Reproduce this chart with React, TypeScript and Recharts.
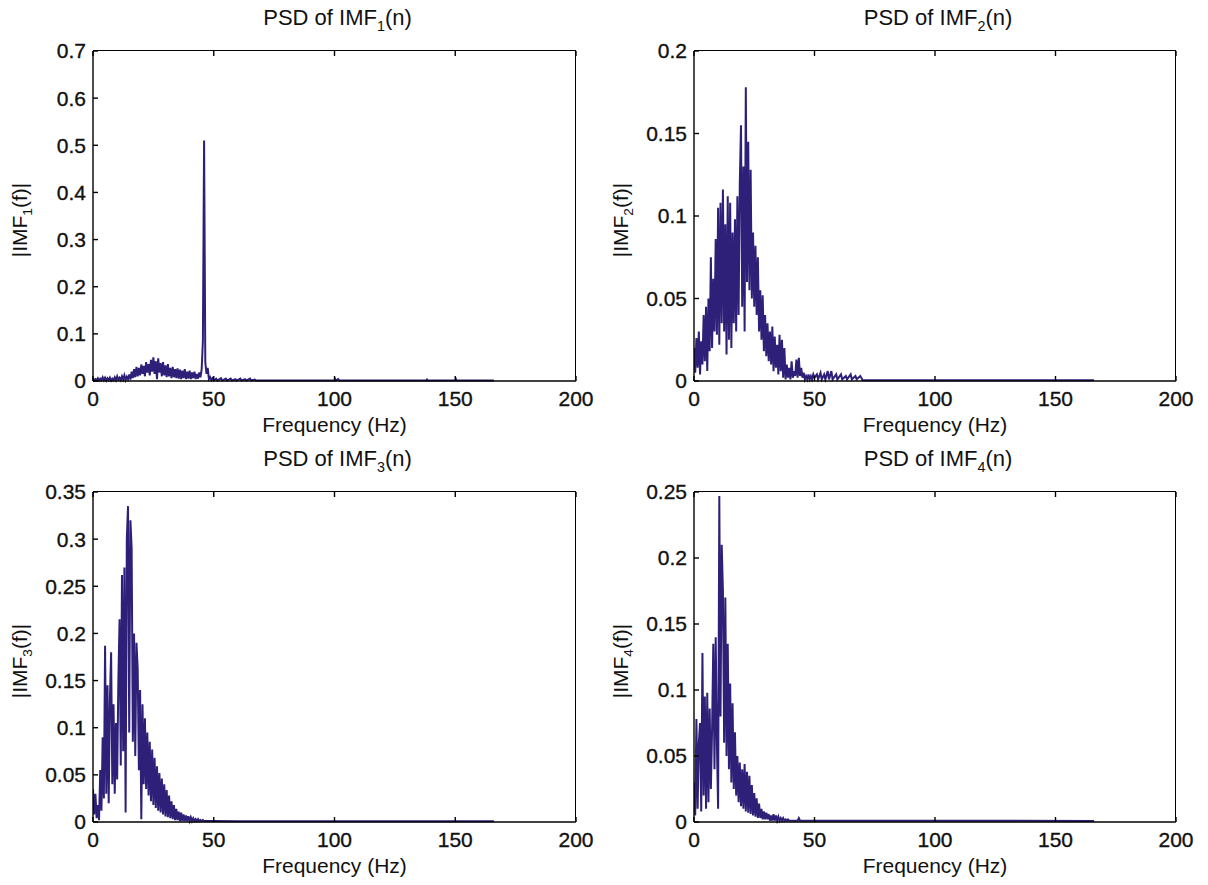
import React from "react";
import { LineChart, Line, XAxis, YAxis } from "recharts";

// spectrum on a 0.5 Hz grid from 0 to 50 Hz,
// then a few sparse points for the flat tail out to ~166 Hz
const DF = 0.5;

const freqTicks = [0, 50, 100, 150, 200];
const imf1Ticks = [0, 0.1, 0.2, 0.3, 0.4, 0.5, 0.6, 0.7];
const imf2Ticks = [0, 0.05, 0.1, 0.15, 0.2];
const imf3Ticks = [0, 0.05, 0.1, 0.15, 0.2, 0.25, 0.3, 0.35];
const imf4Ticks = [0, 0.05, 0.1, 0.15, 0.2, 0.25];

const imf1Psd = [
  0.006, 0.001, 0.004, 0.002, 0.006, 0.001, 0.005, 0.002, 0.008, 0.002,
  0.007, 0.001, 0.006, 0.002, 0.007, 0.001, 0.005, 0.002, 0.008, 0.002,
  0.010, 0.003, 0.007, 0.002, 0.010, 0.003, 0.012, 0.002, 0.009, 0.004,
  0.014, 0.003, 0.020, 0.006, 0.025, 0.008, 0.030, 0.010, 0.028, 0.012,
  0.035, 0.015, 0.032, 0.010, 0.040, 0.018, 0.036, 0.012, 0.045, 0.020,
  0.050, 0.015, 0.042, 0.004, 0.048, 0.018, 0.038, 0.010, 0.040, 0.012,
  0.033, 0.008, 0.036, 0.010, 0.028, 0.006, 0.030, 0.008, 0.025, 0.006,
  0.027, 0.005, 0.024, 0.004, 0.022, 0.006, 0.025, 0.004, 0.020, 0.005,
  0.022, 0.004, 0.018, 0.006, 0.020, 0.004, 0.015, 0.005, 0.018, 0.008,
  0.025, 0.085, 0.510, 0.040, 0.015, 0.028, 0.004, 0.008, 0.002, 0.006,
  0.001,
];
const imf1Tail = [
  [51, 0.005], [51.5, 0.001], [53, 0.006], [53.5, 0.001], [55, 0.005], [55.5, 0.001],
  [57, 0.005], [57.5, 0.001], [59, 0.004], [59.5, 0.001], [61, 0.005], [61.5, 0.001],
  [63, 0.004], [63.5, 0.001], [65, 0.005], [65.5, 0.001], [67, 0.003], [67.5, 0.0008],
  [100, 0.0008], [100.3, 0.004], [100.6, 0.0008], [101.5, 0.004], [102, 0.0008],
  [138, 0.0008], [138.3, 0.003], [138.6, 0.0008], [150, 0.0008], [150.3, 0.004],
  [150.6, 0.0008], [166, 0.0008],
];

const imf2Psd = [
  0.020, 0.005, 0.026, 0.008, 0.030, 0.004, 0.024, 0.010, 0.040, 0.012,
  0.045, 0.006, 0.050, 0.018, 0.075, 0.020, 0.062, 0.030, 0.086, 0.028,
  0.105, 0.022, 0.108, 0.035, 0.116, 0.030, 0.095, 0.016, 0.112, 0.025,
  0.108, 0.020, 0.090, 0.035, 0.098, 0.030, 0.112, 0.040, 0.120, 0.155,
  0.045, 0.130, 0.030, 0.178, 0.060, 0.145, 0.055, 0.128, 0.050, 0.090,
  0.045, 0.082, 0.040, 0.075, 0.030, 0.055, 0.025, 0.052, 0.018, 0.040,
  0.015, 0.035, 0.012, 0.030, 0.010, 0.033, 0.006, 0.027, 0.008, 0.022,
  0.004, 0.028, 0.006, 0.025, 0.002, 0.020, 0.001, 0.010, 0.002, 0.008,
  0.001, 0.012, 0.002, 0.006, 0.003, 0.013, 0.002, 0.014, 0.003, 0.008,
  0.002, 0.005, 0.001, 0.003, 0.001, 0.004, 0.001, 0.003, 0.001, 0.004,
  0.002,
];
const imf2Tail = [
  [51, 0.004], [51.5, 0.001], [52.5, 0.005], [53, 0.001], [54, 0.004], [54.5, 0.001],
  [55.5, 0.006], [56, 0.001], [57, 0.006], [57.5, 0.001], [59, 0.004], [59.5, 0.001],
  [61, 0.004], [61.5, 0.001], [63, 0.003], [63.5, 0.001], [65, 0.004], [65.5, 0.001],
  [67, 0.003], [67.5, 0.001], [69, 0.003], [70, 0.0005], [166, 0.0005],
];

const imf3Psd = [
  0.035, 0.008, 0.030, 0.004, 0.018, 0.002, 0.055, 0.012, 0.090, 0.025,
  0.187, 0.030, 0.145, 0.020, 0.130, 0.180, 0.040, 0.125, 0.030, 0.105,
  0.045, 0.150, 0.215, 0.060, 0.262, 0.075, 0.270, 0.010, 0.300, 0.335,
  0.095, 0.320, 0.290, 0.085, 0.200, 0.070, 0.190, 0.163, 0.055, 0.140,
  0.003, 0.125, 0.040, 0.110, 0.035, 0.095, 0.028, 0.085, 0.022, 0.077,
  0.018, 0.068, 0.015, 0.059, 0.012, 0.052, 0.010, 0.046, 0.008, 0.040,
  0.006, 0.034, 0.005, 0.028, 0.004, 0.022, 0.003, 0.018, 0.002, 0.014,
  0.002, 0.011, 0.001, 0.010, 0.001, 0.008, 0.001, 0.007, 0.001, 0.006,
  0.001, 0.005, 0.001, 0.004, 0.001, 0.003, 0.001, 0.003, 0.001, 0.002,
  0.001, 0.002, 0.001, 0.001, 0.001, 0.001, 0.001, 0.001, 0.001, 0.001,
  0.001,
];
const imf3Tail = [[60, 0.0008], [166, 0.0008]];

const imf4Psd = [
  0.030, 0.005, 0.078, 0.010, 0.060, 0.075, 0.008, 0.128, 0.020, 0.095,
  0.010, 0.098, 0.015, 0.086, 0.025, 0.070, 0.135, 0.040, 0.140, 0.060,
  0.010, 0.247, 0.080, 0.210, 0.175, 0.060, 0.170, 0.050, 0.135, 0.040,
  0.105, 0.030, 0.090, 0.025, 0.068, 0.020, 0.050, 0.015, 0.045, 0.012,
  0.040, 0.010, 0.044, 0.008, 0.038, 0.007, 0.035, 0.006, 0.028, 0.005,
  0.022, 0.004, 0.018, 0.003, 0.014, 0.003, 0.010, 0.002, 0.008, 0.002,
  0.007, 0.002, 0.006, 0.001, 0.005, 0.001, 0.006, 0.001, 0.005, 0.001,
  0.004, 0.001, 0.003, 0.001, 0.003, 0.001, 0.002, 0.001, 0.002, 0.001,
  0.001, 0.001, 0.001, 0.001, 0.001, 0.001, 0.001, 0.003, 0.001, 0.001,
  0.001, 0.001, 0.001, 0.001, 0.001, 0.001, 0.001, 0.001, 0.001, 0.001,
  0.001,
];
const imf4Tail = [[166, 0.0008]];

const FONT = "'Liberation Sans', Arial, sans-serif";
const LINE_COLOR = "#2e2078";
const axisStroke = { stroke: "#000", strokeWidth: 1.4 };
const tickText = { fontSize: 21, fill: "#111", stroke: "#111", strokeWidth: 0.35, fontFamily: FONT };

const Sub = ({ c }: { c: string }) => (
  <span style={{ fontSize: "0.65em", verticalAlign: "-0.4em" }}>{c}</span>
);

function TextAt({ x, y, size, rotate, children }: any) {
  return (
    <div
      style={{
        position: "absolute",
        left: x,
        top: y,
        transform: `translate(-50%, -50%)${rotate ? " rotate(-90deg)" : ""}`,
        fontFamily: FONT,
        fontSize: size,
        color: "#111",
        whiteSpace: "nowrap",
        lineHeight: 1,
      }}
    >
      {children}
    </div>
  );
}

function PsdPanel(props: {
  n: string;
  psd: number[];
  tail: number[][];
  ticks: number[];
  left: number;
  top: number;
  marginTop: number;
  marginLeft: number;
  marginBottom: number;
}) {
  const { n, psd, tail, ticks, left, top, marginTop, marginLeft, marginBottom } = props;
  const data = [
    ...psd.map((v, i) => ({ f: i * DF, psd: v })),
    ...tail.map(([f, v]) => ({ f, psd: v })),
  ];
  const yMax = ticks[ticks.length - 1];
  // plot rectangle inside the 600x440 chart
  const plotLeft = marginLeft + 50;
  const plotTop = marginTop + 1;
  const plotBottom = 440 - 45 - marginBottom;
  const plotRight = 600 - 23 - 1;
  const cx = (plotLeft + plotRight) / 2;

  return (
    <div style={{ position: "absolute", left, top, width: 600, height: 440 }}>
      <LineChart
        width={600}
        height={440}
        data={data}
        margin={{ top: marginTop, right: 23, bottom: marginBottom, left: marginLeft }}
      >
        <XAxis
          xAxisId="b"
          dataKey="f"
          type="number"
          domain={[0, 200]}
          ticks={freqTicks}
          allowDataOverflow
          height={45}
          tickSize={-5}
          tickMargin={15}
          axisLine={axisStroke}
          tickLine={axisStroke}
          tick={tickText}
        />
        <XAxis
          xAxisId="t"
          orientation="top"
          dataKey="f"
          type="number"
          domain={[0, 200]}
          ticks={freqTicks}
          height={1}
          tickSize={-5}
          axisLine={false}
          tickLine={axisStroke}
          tick={() => <g />}
        />
        <YAxis
          yAxisId="l"
          type="number"
          domain={[0, yMax]}
          ticks={ticks}
          width={50}
          tickSize={-5}
          tickMargin={12}
          axisLine={axisStroke}
          tickLine={axisStroke}
          tick={tickText}
        />
        <YAxis
          yAxisId="r"
          orientation="right"
          type="number"
          domain={[0, yMax]}
          ticks={ticks}
          width={1}
          tickSize={-5}
          axisLine={false}
          tickLine={axisStroke}
          tick={() => <g />}
        />
        <Line
          xAxisId="b"
          yAxisId="l"
          type="linear"
          dataKey="psd"
          stroke={LINE_COLOR}
          strokeWidth={2}
          dot={false}
          isAnimationActive={false}
        />
      </LineChart>
      {/* top and right edges of the MATLAB box */}
      <div
        style={{
          position: "absolute",
          left: plotLeft,
          top: plotTop - 0.7,
          width: plotRight - plotLeft,
          height: plotBottom - plotTop,
          borderTop: "1.4px solid #000",
          borderRight: "1.4px solid #000",
          boxSizing: "border-box",
          pointerEvents: "none",
        }}
      />
      <TextAt x={cx + 3} y={plotTop - 31} size={22}>
        PSD of IMF<Sub c={n} />(n)
      </TextAt>
      <TextAt x={cx} y={plotBottom + 43} size={21}>
        Frequency (Hz)
      </TextAt>
      <TextAt x={plotLeft - 71} y={(plotTop + plotBottom) / 2 + 4} size={21} rotate>
        |IMF<Sub c={n} />(f)|
      </TextAt>
    </div>
  );
}

export default function App() {
  return (
    <div
      style={{
        position: "fixed",
        left: 0,
        top: 0,
        width: 1208,
        height: 885,
        background: "#fff",
        overflow: "hidden",
      }}
    >
      <PsdPanel n="1" psd={imf1Psd} tail={imf1Tail} ticks={imf1Ticks} left={0} top={0}
        marginTop={50} marginLeft={43} marginBottom={14} />
      <PsdPanel n="2" psd={imf2Psd} tail={imf2Tail} ticks={imf2Ticks} left={600} top={0}
        marginTop={50} marginLeft={44} marginBottom={14} />
      <PsdPanel n="3" psd={imf3Psd} tail={imf3Tail} ticks={imf3Ticks} left={0} top={440}
        marginTop={51} marginLeft={43} marginBottom={13} />
      <PsdPanel n="4" psd={imf4Psd} tail={imf4Tail} ticks={imf4Ticks} left={600} top={440}
        marginTop={51} marginLeft={44} marginBottom={13} />
    </div>
  );
}
